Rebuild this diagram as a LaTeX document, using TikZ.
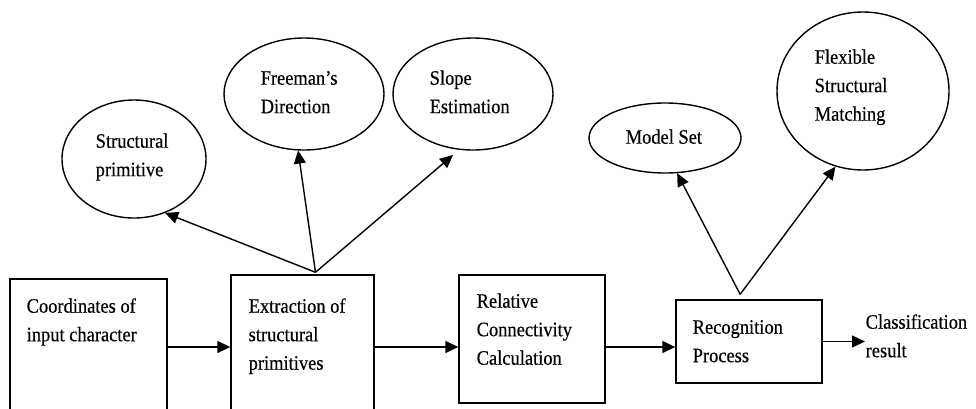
\documentclass[tikz,border=0pt]{standalone}
\usepackage{fontspec}
\setmainfont{Liberation Serif}[FakeStretch=0.9,FakeBold=0.4]
\usetikzlibrary{shapes.geometric,arrows.meta,calc}

\begin{document}
\begin{tikzpicture}[x=1pt,y=-1pt,
  line width=1.4pt,
  stage/.style={draw,rectangle,inner sep=0pt},
  bubble/.style={draw,ellipse,inner sep=0pt},
  txt/.style={anchor=north west,inner sep=0pt,align=left,
    font=\fontsize{20.5}{28.5}\selectfont},
  arr/.style={-{Triangle[length=13pt,width=12pt]}}
]
\useasboundingbox (0,0) rectangle (976,408);
\clip (0,0) rectangle (976,408);

% process stages
\node[stage,minimum width=157pt,minimum height=136pt] (B1) at (88.5,347) {};
\node[stage,minimum width=143pt,minimum height=140pt] (B2) at (302.5,345) {};
\node[stage,minimum width=146pt,minimum height=128pt] (B3) at (532,339) {};
\node[stage,minimum width=146pt,minimum height=83pt]  (B4) at (749,341.5) {};

% stage labels
\node[txt] (t1) at (26,297)  {\rule{0pt}{15pt}Coordinates of\\input character};
\node[txt] (t2) at (248,297) {\rule{0pt}{15pt}Extraction of\\structural\\primitives};
\node[txt] (t3) at (476,292) {\rule{0pt}{15pt}Relative\\Connectivity\\Calculation};
\node[txt] (t4) at (692,318) {\rule{0pt}{15pt}Recognition\\Process};
\node[txt] (res) at (865,313) {\rule{0pt}{15pt}Classification\\result};

% feature and matching bubbles
\node[bubble,minimum width=144pt,minimum height=118pt] (SP) at (134,159) {};
\node[bubble,minimum width=160pt,minimum height=112pt] (FD) at (304,94) {};
\node[bubble,minimum width=160pt,minimum height=112pt] (SE) at (473,94) {};
\node[bubble,minimum width=152pt,minimum height=70pt]  (MS) at (665,138) {};
\node[bubble,minimum width=172pt,minimum height=158pt] (FM) at (863,91) {};

\node[txt] (tSP) at (95,132)  {\rule{0pt}{15pt}Structural\\primitive};
\node[txt] (tFD) at (260,69)  {\rule{0pt}{15pt}Freeman’s\\Direction};
\node[txt] (tSE) at (429,69)  {\rule{0pt}{15pt}Slope\\Estimation};
\node[txt] (tMS) at (625,128) {\rule{0pt}{15pt}Model Set};
\node[txt] (tFM) at (814,48)  {\rule{0pt}{15pt}Flexible\\Structural\\Matching};

% pipeline arrows
\draw[arr] (B1.east) -- (B1.east -| B2.west);
\draw[arr] (B1.east -| B2.east) -- (B1.east -| B3.west);
\draw[arr] (B1.east -| B3.east) -- (B1.east -| B4.west);
\coordinate (rin) at (B4.east -| res.west);
\draw[arr] (B4.east) -- (rin);

% branching arrows
\coordinate (s1) at ($(B2.north west)!0.59!(B2.north east)+(0,-2)$);
\draw[arr] (s1) -- (SP.-60);
\draw[arr] (s1) -- (FD.-96);
\draw[arr,shorten >=8pt] (s1) -- (SE.-104);

\coordinate (s2) at ($(B4.north west)!0.44!(B4.north east)+(0,-5)$);
\draw[arr] (s2) -- (MS.-71);
\draw[arr] (s2) -- (FM.-110);
\end{tikzpicture}
\end{document}
